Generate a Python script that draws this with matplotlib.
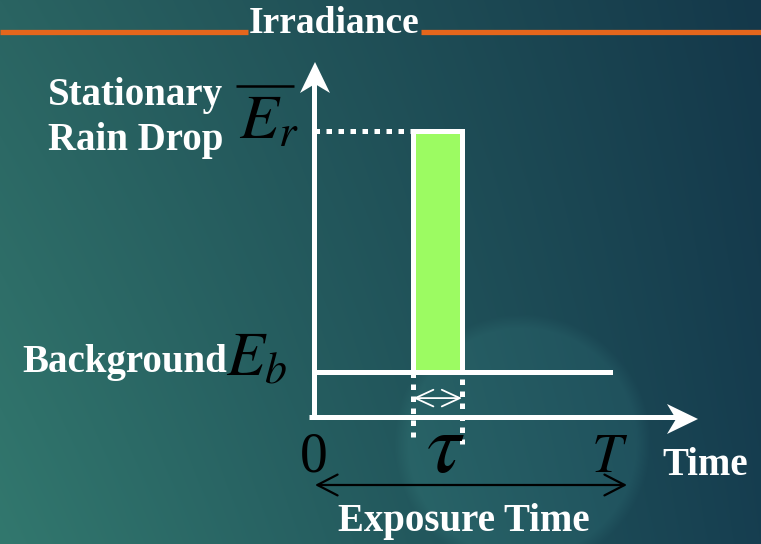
import numpy as np
import matplotlib
matplotlib.use("Agg")
import matplotlib.pyplot as plt
from matplotlib.patches import Polygon, FancyArrowPatch, ArrowStyle

# ---- signal model: irradiance seen by one pixel during an exposure ----
T_exposure = 1.0        # exposure time (normalised)
drop_start = 0.335      # time the drop enters the pixel
drop_tau = 0.165        # time the drop stays on the pixel
E_background = 1.0      # background irradiance
E_raindrop = 6.35       # irradiance of the stationary rain drop

time_labels = ["0", r"$\tau$", r"$T$"]
time_positions = [0.0, drop_start + drop_tau / 2 + 0.025, T_exposure]
time_label_sizes = [40, 62, 40]

plt.rcParams["mathtext.fontset"] = "stix"
SERIF = "Liberation Serif"

W, H = 761, 544
fig = plt.figure(figsize=(W / 100, H / 100), dpi=100)
ax = fig.add_axes([0, 0, 1, 1])

# pixel <-> data mapping of the drawing area
X0, XS = 314.0, 296.0
Y0, YS = 417.0, 45.0
ax.set_xlim(-X0 / XS, (W - X0) / XS)
ax.set_ylim((Y0 - H) / YS, Y0 / YS)
ax.axis("off")


def P(x, y):
    return ((x - X0) / XS, (Y0 - y) / YS)


# ---- slide background: teal gradient with a soft glow ----
yy, xx = np.mgrid[0:H, 0:W].astype(float)
u, v = xx / (W - 1), yy / (H - 1)
TL = np.array([42, 100, 98]) / 255
TR = np.array([20, 56, 74]) / 255
BL = np.array([50, 120, 110]) / 255
BR = np.array([22, 62, 80]) / 255
img = ((1 - u)[..., None] * (1 - v)[..., None] * TL + u[..., None] * (1 - v)[..., None] * TR
       + (1 - u)[..., None] * v[..., None] * BL + u[..., None] * v[..., None] * BR)
r = np.hypot(xx - 522, yy - 442)
glow = np.clip((128 - r) / 14, 0, 1)
img = img + glow[..., None] * (np.array([6, 12, 10]) / 255)
img = np.clip(img, 0, 1)
x_lo, x_hi = ax.get_xlim()
y_lo, y_hi = ax.get_ylim()
ax.imshow(img, extent=[x_lo, x_hi, y_lo, y_hi], aspect="auto", zorder=0,
          interpolation="bilinear")

# ---- header rule and title ----
ORANGE = "#e4661c"
for xa, xb in [(0, 248), (421, W)]:
    (p1, p2) = P(xa, 31.5), P(xb, 31.5)
    ax.plot([p1[0], p2[0]], [p1[1], p2[1]], color=ORANGE, lw=3.8,
            solid_capstyle="butt", zorder=1)
ax.text(*P(334, 33), "Irradiance", color="white", fontsize=27, fontweight="bold",
        family=SERIF, ha="center", va="baseline", zorder=3)

LW = 3.6  # white stroke width (pt)


def arrow_head(tip, back, half_w, notch):
    """Notched (stealth) arrow head given in pixel coordinates."""
    tx, ty = tip
    bx, by = back
    d = np.array([tx - bx, ty - by])
    d = d / np.hypot(*d)
    n = np.array([-d[1], d[0]])
    base = np.array([bx, by])
    pts = [tip, base + n * half_w, base + d * notch, base - n * half_w]
    ax.add_patch(Polygon([P(*p) for p in pts], closed=True, color="white",
                         lw=0, zorder=4))


# ---- axes ----
ax.plot([0, 0], [P(0, 419)[1], P(0, 80)[1]], color="white", lw=LW,
        solid_capstyle="butt", zorder=4)
arrow_head((315, 62), (315, 93), 15, 9)
ax.plot([P(309, 0)[0], P(680, 0)[0]], [0, 0], color="white", lw=LW,
        solid_capstyle="butt", zorder=4)
arrow_head((698, 419), (667, 419), 15, 9)

# ---- background level and rain-drop pulse ----
ax.plot([0, T_exposure], [E_background, E_background], color="white", lw=LW,
        solid_capstyle="projecting", zorder=3)
ax.bar([drop_start], [E_raindrop - E_background], bottom=E_background,
       width=drop_tau, align="edge", color="#9cfb62", edgecolor="white",
       linewidth=LW, zorder=3)

# dotted guides
dots = (0, (1.1, 1.3))
ax.plot([0, drop_start], [E_raindrop, E_raindrop], color="white", lw=LW,
        linestyle=dots, dash_capstyle="butt", zorder=3)
ax.plot([drop_start, drop_start], [E_background, -0.45], color="white", lw=LW,
        linestyle=dots, dash_capstyle="butt", zorder=3)
ax.plot([drop_start + drop_tau] * 2, [E_background - 0.15, -0.6], color="white",
        lw=LW, linestyle=dots, dash_capstyle="butt", zorder=3)

# duration of the drop
ax.add_patch(FancyArrowPatch((drop_start, 0.42), (drop_start + drop_tau, 0.42),
                             arrowstyle=ArrowStyle("<->", head_length=1.3, head_width=0.6),
                             mutation_scale=10, color="white", lw=1.3, zorder=5,
                             shrinkA=0, shrinkB=0))

# exposure span
ax.add_patch(FancyArrowPatch(P(315, 485), P(627, 485),
                             arrowstyle=ArrowStyle("<->", head_length=1.45, head_width=0.75),
                             mutation_scale=10, color="black", lw=1.6, zorder=5,
                             shrinkA=0, shrinkB=0))

# ---- time tick labels ----
for lab, t, fs in zip(time_labels, time_positions, time_label_sizes):
    ax.text(t, P(0, 472)[1], lab, color="black", fontsize=fs, family=SERIF,
            ha="center", va="baseline", zorder=5)

# ---- text labels ----
txt = dict(color="white", fontsize=28, fontweight="bold", family=SERIF,
           va="baseline", zorder=5)
ax.text(*P(48, 105), "Stationary", ha="left", **txt)
ax.text(*P(48, 150), "Rain Drop", ha="left", **txt)
ax.text(*P(22, 372), "Background", ha="left", **txt)
ax.text(*P(662, 475), "Time", ha="left", **txt)
ax.text(*P(464, 531), "Exposure Time", ha="center", **txt)

# level symbols
ax.text(*P(239, 139), r"$E_r$", color="black", fontsize=46,
        ha="left", va="baseline", zorder=5)
ax.plot([P(236, 0)[0], P(294, 0)[0]], [P(0, 86)[1]] * 2, color="black",
        lw=1.8, solid_capstyle="butt", zorder=5)
ax.text(*P(226, 375), r"$E_b$", color="black", fontsize=45,
        ha="left", va="baseline", zorder=5)

fig.savefig("out.png", dpi=100)
